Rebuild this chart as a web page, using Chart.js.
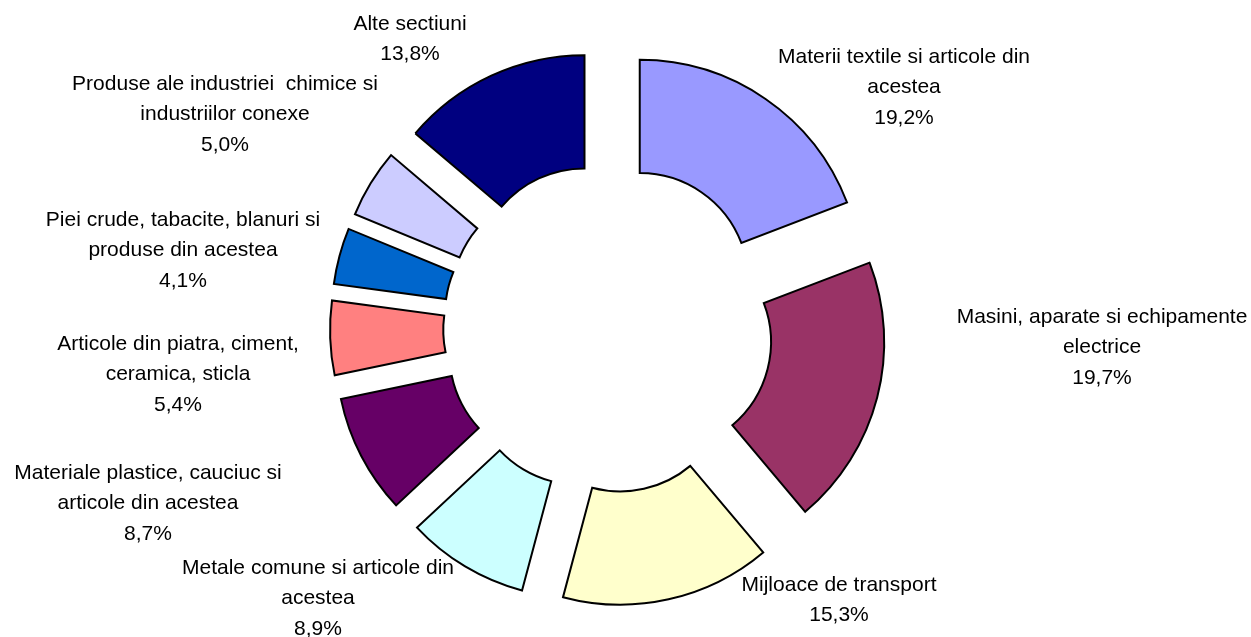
<!DOCTYPE html>
<html>
<head>
<meta charset="utf-8">
<script src="https://cdn.jsdelivr.net/npm/chart.js@4"></script>
<style>
body{margin:0;background:#fff}
</style>
</head>
<body>
<canvas id="export-chart" width="1251" height="637"></canvas>
<script>
const categories=[
  ['Materii textile si articole din','acestea'],
  ['Masini, aparate si echipamente','electrice'],
  ['Mijloace de transport'],
  ['Metale comune si articole din','acestea'],
  ['Materiale plastice, cauciuc si','articole din acestea'],
  ['Articole din piatra, ciment,','ceramica, sticla'],
  ['Piei crude, tabacite, blanuri si','produse din acestea'],
  ['Produse ale industriei  chimice si','industriilor conexe'],
  ['Alte sectiuni']
];
const shares=[19.2,19.7,15.3,8.9,8.7,5.4,4.1,5.0,13.8];
const colors=['#9999FF','#993366','#FFFFCC','#CCFFFF','#660066','#FF8080','#0066CC','#CCCCFF','#000080'];

// where each label's first line sits, measured from the doughnut centre
const labelSpots=[[296,-271],[494,-11],[231,257],[-290,240],[-460,145],[-430,16],[-425,-108],[-383,-244],[-198,-304]];
const gap=56;      // explosion distance
const lineH=30.5;

// draw every slice pushed out along its middle angle (excel style explode)
const explode={
  id:'explode',
  beforeDatasetDraw(chart,args){
    const ctx=chart.ctx;
    args.meta.data.forEach((arc)=>{
      const mid=(arc.startAngle+arc.endAngle)/2;
      ctx.save();
      ctx.translate(Math.cos(mid)*gap,Math.sin(mid)*gap);
      arc.draw(ctx);
      ctx.restore();
    });
    return false;
  }
};

const sliceLabels={
  id:'sliceLabels',
  afterDraw(chart){
    const ctx=chart.ctx;
    const first=chart.getDatasetMeta(0).data[0];
    const cx=first.x, cy=first.y;
    ctx.save();
    ctx.font='21px "Liberation Sans", Arial, sans-serif';
    ctx.fillStyle='#000';
    ctx.textAlign='center';
    ctx.textBaseline='middle';
    categories.forEach((lines,i)=>{
      const all=lines.concat([shares[i].toFixed(1).replace('.',',')+'%']);
      const x=cx+labelSpots[i][0];
      let y=cy+labelSpots[i][1];
      all.forEach((t)=>{
        ctx.fillText(t,x,y);
        y+=lineH;
      });
    });
    ctx.restore();
  }
};

const ctx=document.getElementById('export-chart').getContext('2d');
const myChart=new Chart(ctx,{
  type:'doughnut',
  data:{
    labels:categories,
    datasets:[{
      data:shares,
      backgroundColor:colors,
      borderColor:'#000',
      borderWidth:2,
      borderJoinStyle:'miter',
      radius:222,
      cutout:'49%'
    }]
  },
  options:{
    responsive:false,
    animation:false,
    layout:{padding:{top:19,right:35,left:0,bottom:0}},
    plugins:{
      legend:{display:false},
      tooltip:{enabled:false}
    }
  },
  plugins:[explode,sliceLabels]
});
</script>
</body>
</html>
